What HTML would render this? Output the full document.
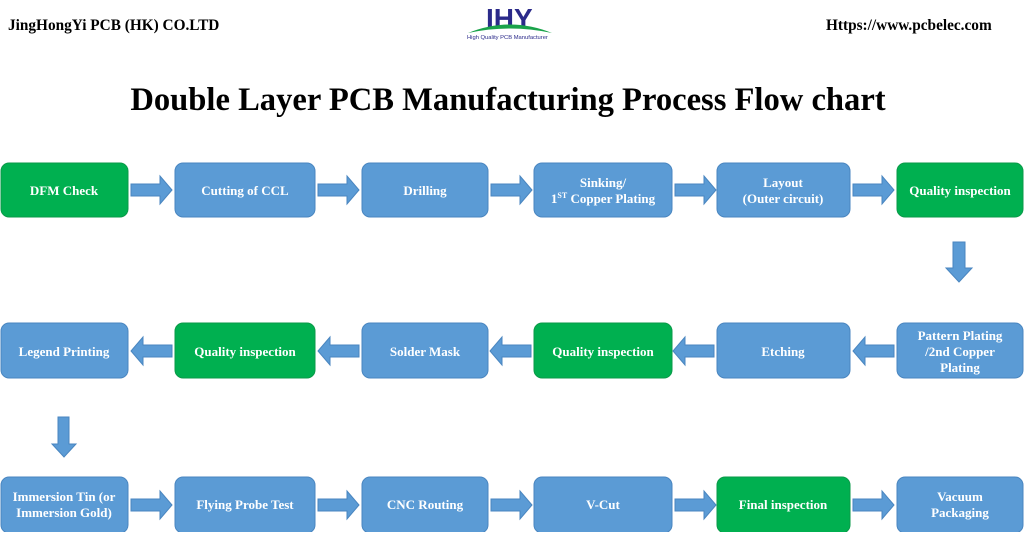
<!DOCTYPE html>
<html><head><meta charset="utf-8"><style>
body{margin:0;background:#fff;}
svg text{font-family:"Liberation Serif",serif;font-weight:bold;}
</style></head><body>
<svg width="1024" height="532" viewBox="0 0 1024 532" xmlns="http://www.w3.org/2000/svg">
<rect width="1024" height="532" fill="#fff"/>
<text x="8" y="30" font-size="15.3" fill="#000">JingHongYi PCB (HK) CO.LTD</text>
<text x="826" y="30" font-size="15.3" fill="#000">Https://www.pcbelec.com</text>
<text x="486" y="28" font-size="28" fill="#2b2a8a" style="font-family:'Liberation Sans',sans-serif">IHY</text>
<path d="M468 33 Q510 16 552 33 Q510 24 468 33Z" fill="#1aa34a"/>
<text x="467" y="39" font-size="5.8" fill="#2b2a8a" style="font-family:'Liberation Sans',sans-serif;font-weight:normal">High Quality PCB Manufacturer</text>
<text x="508" y="110" font-size="32.6" fill="#000" text-anchor="middle">Double Layer PCB Manufacturing Process Flow chart</text>
<g stroke="#4a86c0" stroke-width="1">
<rect x="1" y="163" width="127" height="54" rx="8" fill="#00b050" stroke="#0a9a48"/>
<rect x="175" y="163" width="140" height="54" rx="8" fill="#5b9bd5"/>
<rect x="362" y="163" width="126" height="54" rx="8" fill="#5b9bd5"/>
<rect x="534" y="163" width="138" height="54" rx="8" fill="#5b9bd5"/>
<rect x="717" y="163" width="133" height="54" rx="8" fill="#5b9bd5"/>
<rect x="897" y="163" width="126" height="54" rx="8" fill="#00b050" stroke="#0a9a48"/>
<rect x="1" y="323" width="127" height="55" rx="8" fill="#5b9bd5"/>
<rect x="175" y="323" width="140" height="55" rx="8" fill="#00b050" stroke="#0a9a48"/>
<rect x="362" y="323" width="126" height="55" rx="8" fill="#5b9bd5"/>
<rect x="534" y="323" width="138" height="55" rx="8" fill="#00b050" stroke="#0a9a48"/>
<rect x="717" y="323" width="133" height="55" rx="8" fill="#5b9bd5"/>
<rect x="897" y="323" width="126" height="55" rx="8" fill="#5b9bd5"/>
<rect x="1" y="477" width="127" height="56" rx="8" fill="#5b9bd5"/>
<rect x="175" y="477" width="140" height="56" rx="8" fill="#5b9bd5"/>
<rect x="362" y="477" width="126" height="56" rx="8" fill="#5b9bd5"/>
<rect x="534" y="477" width="138" height="56" rx="8" fill="#5b9bd5"/>
<rect x="717" y="477" width="133" height="56" rx="8" fill="#00b050" stroke="#0a9a48"/>
<rect x="897" y="477" width="126" height="56" rx="8" fill="#5b9bd5"/>
</g>
<g fill="#5b9bd5" stroke="#4a86c0" stroke-width="1">
<path d="M131 184h29v-8l12 14-12 14v-8h-29z"/>
<path d="M318 184h29v-8l12 14-12 14v-8h-29z"/>
<path d="M491 184h29v-8l12 14-12 14v-8h-29z"/>
<path d="M675 184h29v-8l12 14-12 14v-8h-29z"/>
<path d="M853 184h29v-8l12 14-12 14v-8h-29z"/>
<path d="M172 345h-29v-8l-12 14 12 14v-8h29z"/>
<path d="M359 345h-29v-8l-12 14 12 14v-8h29z"/>
<path d="M531 345h-29v-8l-12 14 12 14v-8h29z"/>
<path d="M714 345h-29v-8l-12 14 12 14v-8h29z"/>
<path d="M894 345h-29v-8l-12 14 12 14v-8h29z"/>
<path d="M131 499h29v-8l12 14-12 14v-8h-29z"/>
<path d="M318 499h29v-8l12 14-12 14v-8h-29z"/>
<path d="M491 499h29v-8l12 14-12 14v-8h-29z"/>
<path d="M675 499h29v-8l12 14-12 14v-8h-29z"/>
<path d="M853 499h29v-8l12 14-12 14v-8h-29z"/>
<path d="M953 242h12v26h7l-13 14-13-14h7z"/>
<path d="M58 417h11v27h7l-12 13-12-13h6z"/>
</g>
<g fill="#fff" font-size="13" text-anchor="middle">
<text x="64" y="195">DFM Check</text>
<text x="245" y="195">Cutting of CCL</text>
<text x="425" y="195">Drilling</text>
<text x="603" y="187">Sinking/</text>
<text x="603" y="203">1<tspan font-size="8" dy="-5">ST</tspan><tspan dy="5"> Copper Plating</tspan></text>
<text x="783" y="187">Layout</text>
<text x="783" y="203">(Outer circuit)</text>
<text x="960" y="195">Quality inspection</text>
<text x="64" y="356">Legend Printing</text>
<text x="245" y="356">Quality inspection</text>
<text x="425" y="356">Solder Mask</text>
<text x="603" y="356">Quality inspection</text>
<text x="783" y="356">Etching</text>
<text x="960" y="340">Pattern Plating</text>
<text x="960" y="356">/2nd Copper</text>
<text x="960" y="372">Plating</text>
<text x="64" y="501">Immersion Tin (or</text>
<text x="64" y="517">Immersion Gold)</text>
<text x="245" y="509">Flying Probe Test</text>
<text x="425" y="509">CNC Routing</text>
<text x="603" y="509">V-Cut</text>
<text x="783" y="509">Final inspection</text>
<text x="960" y="501">Vacuum</text>
<text x="960" y="517">Packaging</text>
</g>
</svg>
</body></html>
